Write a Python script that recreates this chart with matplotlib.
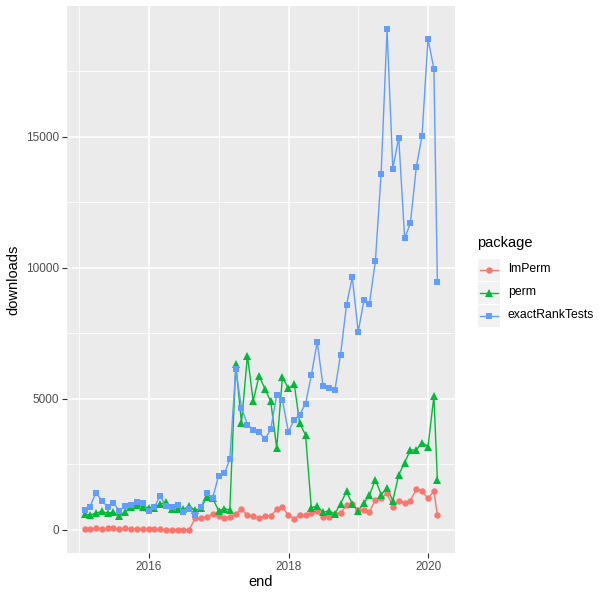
import numpy as np
import pandas as pd
import matplotlib
matplotlib.use('Agg')
import matplotlib.pyplot as plt
import matplotlib.dates as mdates
from matplotlib.lines import Line2D
from matplotlib.patches import Rectangle

plt.rcParams['font.family'] = ['Liberation Sans', 'DejaVu Sans']

# monthly download counts, "end" = last day of the period
end = list(pd.date_range('2015-02-01', periods=61, freq='MS') - pd.Timedelta(days=1))
end.append(pd.Timestamp('2020-02-18'))

packages = ['lmPerm', 'perm', 'exactRankTests']

lmperm = [30, 30, 60, 30, 60, 60, 30, 60, 30, 40, 40, 20, 20, 20, 10, 10, 10, 10, 10, 450,
          470, 490, 610, 530, 460, 510, 610, 790, 560, 530, 460, 530, 530, 790, 870, 560,
          430, 560, 560, 660, 710, 480, 480, 610, 640, 940, 990, 760, 760, 690, 1150, 1200,
          1400, 890, 1120, 1020, 1120, 1550, 1480, 1200, 1480, 560]

perm = [600, 570, 640, 710, 640, 680, 540, 690, 890, 950, 890, 850, 850, 990, 1050, 800,
        790, 790, 900, 760, 820, 1270, 1210, 740, 810, 760, 6340, 4080, 6650, 4920, 5880,
        5370, 4900, 3130, 5820, 5400, 5560, 4070, 3620, 850, 910, 670, 730, 620, 1000, 1470,
        990, 720, 1040, 1330, 1920, 1350, 1610, 1110, 2100, 2570, 3050, 3050, 3330, 3180,
        5100, 1910]

exact = [760, 890, 1420, 1120, 890, 1020, 740, 916, 940, 1070, 1020, 740, 870, 1300, 916,
         890, 940, 700, 790, 560, 870, 1400, 1200, 2060, 2160, 2700, 6130, 4660, 4020, 3820,
         3740, 3460, 3840, 5140, 4940, 3750, 4200, 4400, 4810, 5900, 7175, 5500, 5420, 5320,
         6690, 8580, 9640, 7560, 8780, 8630, 10260, 13590, 19100, 13780, 14960, 11120, 11700,
         13840, 15040, 18730, 17580, 9470]

colors = ['#F8766D', '#00BA38', '#619CFF']
markers = ['o', '^', 's']
msizes = [4.6, 5.2, 4.8]
series = [lmperm, perm, exact]

W, H = 610, 600
fig = plt.figure(figsize=(W / 100, H / 100), dpi=100)
ax = fig.add_axes([67 / W, 1 - 553 / H, (455 - 67) / W, (553 - 6) / H])
ax.set_facecolor('#EBEBEB')

# lines first, points on top (ggplot layer order)
for vals, c in zip(series, colors):
    ax.plot(end, vals, color=c, lw=1.0, zorder=3)
for vals, c, m, ms in zip(series, colors, markers, msizes):
    ax.plot(end, vals, linestyle='none', marker=m, color=c, ms=ms, mew=0, zorder=4)

# scales with 5% expansion
x0, x1 = mdates.date2num(end[0]), mdates.date2num(end[-1])
dx = (x1 - x0) * 0.05
ax.set_xlim(x0 - dx, x1 + dx)
ymax = max(exact)
ax.set_ylim(-0.046 * ymax, ymax * 1.046)

ax.set_xticks([mdates.date2num(pd.Timestamp(f'{y}-01-01')) for y in (2016, 2018, 2020)])
ax.set_xticklabels(['2016', '2018', '2020'])
ax.set_xticks([mdates.date2num(pd.Timestamp(f'{y}-01-01')) for y in (2015, 2017, 2019)], minor=True)
ax.set_yticks([0, 5000, 10000, 15000])
ax.set_yticks([2500, 7500, 12500, 17500], minor=True)

ax.grid(True, which='major', color='white', lw=1.1)
ax.grid(True, which='minor', color='white', lw=0.55)
ax.set_axisbelow(True)
for s in ax.spines.values():
    s.set_visible(False)
ax.tick_params(which='major', length=3.5, width=0.8, color='#333333',
               labelsize=8.5, labelcolor='#4D4D4D', pad=2)
ax.tick_params(which='minor', length=0)

ax.set_xlabel('end', fontsize=10.5, color='black', labelpad=2)
ax.set_ylabel('downloads', fontsize=10.5, color='black', labelpad=4)

# legend drawn by hand, ggplot style
fig.text(477 / W, 1 - 243 / H, 'package', fontsize=10.5, va='center', ha='left')
rows = [269.5, 292.5, 315.5]
for r, lab, c, m, ms in zip(rows, packages, colors, markers, msizes):
    fig.patches.append(Rectangle((478 / W, 1 - (r + 11) / H), 22 / W, 22 / H,
                                 transform=fig.transFigure, facecolor='#F2F2F2',
                                 edgecolor='none'))
    fig.lines.append(Line2D([480 / W, 498 / W], [1 - r / H] * 2, transform=fig.transFigure,
                            color=c, lw=1.0))
    fig.lines.append(Line2D([489 / W], [1 - r / H], transform=fig.transFigure,
                            color=c, marker=m, ms=ms, mew=0, linestyle='none'))
    fig.text(508 / W, 1 - r / H, lab, fontsize=8.8, va='center', ha='left')

fig.savefig('out.png', dpi=100)
